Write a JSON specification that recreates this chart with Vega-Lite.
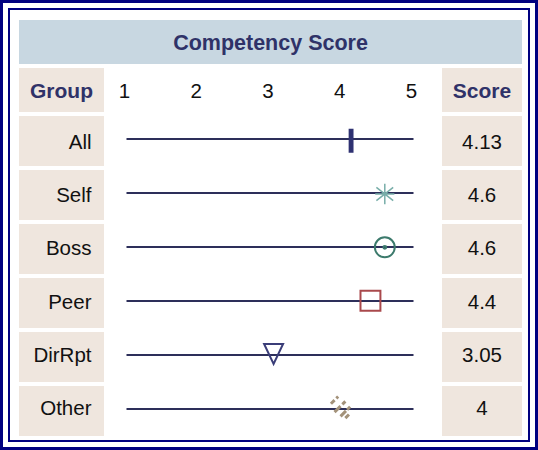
{
  "$schema": "https://vega.github.io/schema/vega-lite/v6.json",
  "width": 538,
  "height": 450,
  "padding": 0,
  "autosize": {"type": "none"},
  "background": "white",
  "config": {"view": {"stroke": null}, "mark": {"font": "Liberation Sans"}},
  "datasets": {
    "rows": [
      {"group": "All", "score": 4.13},
      {"group": "Self", "score": 4.6},
      {"group": "Boss", "score": 4.6},
      {"group": "Peer", "score": 4.4},
      {"group": "DirRpt", "score": 3.05},
      {"group": "Other", "score": 4}
    ],
    "ticks": [{"tick": 1}, {"tick": 2}, {"tick": 3}, {"tick": 4}, {"tick": 5}],
    "title": [{"label": "Competency Score"}]
  },
  "resolve": {"scale": {"x": "independent", "y": "independent", "shape": "independent", "fill": "independent", "stroke": "independent", "strokeWidth": "independent"}},
  "layer": [
    {"data": {"values": [{}]}, "mark": {"type": "rect", "fill": "transparent", "stroke": "#000080", "strokeWidth": 20}, "encoding": {}},
    {"data": {"values": [{}]}, "mark": {"type": "rect", "fill": "transparent", "stroke": "#ffffff", "strokeWidth": 16}, "encoding": {}},
    {"data": {"values": [{}]}, "mark": {"type": "rect", "fill": "transparent", "stroke": "#000080", "strokeWidth": 6}, "encoding": {}},
    {
      "data": {"name": "title"},
      "mark": {"type": "rect", "fill": "#c8d7e1"},
      "encoding": {
        "x": {"field": "label", "type": "nominal", "axis": null, "scale": {"range": [19, 522], "paddingInner": 0, "paddingOuter": 0}},
        "y": {"field": "label", "type": "nominal", "axis": null, "scale": {"range": [20, 64], "paddingInner": 0, "paddingOuter": 0}}
      }
    },
    {
      "data": {"name": "title"},
      "mark": {"type": "text", "fontSize": 21.5, "fontWeight": "bold", "color": "#2f3268", "dy": 2},
      "encoding": {
        "x": {"field": "label", "type": "nominal", "axis": null, "scale": {"range": [19, 522], "paddingInner": 0, "paddingOuter": 0}},
        "y": {"field": "label", "type": "nominal", "axis": null, "scale": {"range": [20, 64], "paddingInner": 0, "paddingOuter": 0}},
        "text": {"field": "label"}
      }
    },
    {
      "data": {"values": [{"h": "Group"}]},
      "mark": {"type": "rect", "fill": "#efe6de"},
      "encoding": {
        "x": {"field": "h", "type": "nominal", "axis": null, "scale": {"range": [19, 104], "paddingInner": 0, "paddingOuter": 0}},
        "y": {"field": "h", "type": "nominal", "axis": null, "scale": {"range": [68, 112], "paddingInner": 0, "paddingOuter": 0}}
      }
    },
    {
      "data": {"values": [{"h": "Group"}]},
      "mark": {"type": "text", "fontSize": 21, "fontWeight": "bold", "color": "#2f3268", "dy": 2},
      "encoding": {
        "x": {"field": "h", "type": "nominal", "axis": null, "scale": {"range": [19, 104], "paddingInner": 0, "paddingOuter": 0}},
        "y": {"field": "h", "type": "nominal", "axis": null, "scale": {"range": [68, 112], "paddingInner": 0, "paddingOuter": 0}},
        "text": {"field": "h"}
      }
    },
    {
      "data": {"values": [{"h": "Score"}]},
      "mark": {"type": "rect", "fill": "#efe6de"},
      "encoding": {
        "x": {"field": "h", "type": "nominal", "axis": null, "scale": {"range": [442, 522], "paddingInner": 0, "paddingOuter": 0}},
        "y": {"field": "h", "type": "nominal", "axis": null, "scale": {"range": [68, 112], "paddingInner": 0, "paddingOuter": 0}}
      }
    },
    {
      "data": {"values": [{"h": "Score"}]},
      "mark": {"type": "text", "fontSize": 21, "fontWeight": "bold", "color": "#2f3268", "dy": 2},
      "encoding": {
        "x": {"field": "h", "type": "nominal", "axis": null, "scale": {"range": [442, 522], "paddingInner": 0, "paddingOuter": 0}},
        "y": {"field": "h", "type": "nominal", "axis": null, "scale": {"range": [68, 112], "paddingInner": 0, "paddingOuter": 0}},
        "text": {"field": "h"}
      }
    },
    {
      "data": {"name": "ticks"},
      "mark": {"type": "text", "fontSize": 20.5, "color": "#111111", "dx": -2, "dy": 2},
      "encoding": {
        "x": {"field": "tick", "type": "quantitative", "axis": null, "scale": {"domain": [1, 5], "range": [126.5, 413.5], "nice": false, "zero": false}},
        "y": {"datum": "header", "type": "nominal", "axis": null, "scale": {"range": [68, 112], "paddingInner": 0, "paddingOuter": 0}},
        "text": {"field": "tick", "type": "nominal"}
      }
    },
    {
      "data": {"name": "rows"},
      "mark": {"type": "rect", "fill": "#efe6de"},
      "encoding": {
        "x": {"datum": "Group", "type": "nominal", "axis": null, "scale": {"range": [19, 104], "paddingInner": 0, "paddingOuter": 0}},
        "y": {"field": "group", "type": "nominal", "axis": null, "scale": {"domain": ["All", "Self", "Boss", "Peer", "DirRpt", "Other"], "range": [116, 436], "paddingInner": 0.074, "paddingOuter": 0}}
      }
    },
    {
      "data": {"name": "rows"},
      "mark": {"type": "text", "fontSize": 20.5, "color": "#111111", "align": "right", "dx": 30},
      "encoding": {
        "x": {"datum": "Group", "type": "nominal", "axis": null, "scale": {"range": [19, 104], "paddingInner": 0, "paddingOuter": 0}},
        "y": {"field": "group", "type": "nominal", "axis": null, "scale": {"domain": ["All", "Self", "Boss", "Peer", "DirRpt", "Other"], "range": [116, 436], "paddingInner": 0.074, "paddingOuter": 0}},
        "text": {"field": "group"}
      }
    },
    {
      "data": {"name": "rows"},
      "mark": {"type": "rect", "fill": "#efe6de"},
      "encoding": {
        "x": {"datum": "Score", "type": "nominal", "axis": null, "scale": {"range": [442, 522], "paddingInner": 0, "paddingOuter": 0}},
        "y": {"field": "group", "type": "nominal", "axis": null, "scale": {"domain": ["All", "Self", "Boss", "Peer", "DirRpt", "Other"], "range": [116, 436], "paddingInner": 0.074, "paddingOuter": 0}}
      }
    },
    {
      "data": {"name": "rows"},
      "mark": {"type": "text", "fontSize": 20.5, "color": "#111111"},
      "encoding": {
        "x": {"datum": "Score", "type": "nominal", "axis": null, "scale": {"range": [442, 522], "paddingInner": 0, "paddingOuter": 0}},
        "y": {"field": "group", "type": "nominal", "axis": null, "scale": {"domain": ["All", "Self", "Boss", "Peer", "DirRpt", "Other"], "range": [116, 436], "paddingInner": 0.074, "paddingOuter": 0}},
        "text": {"field": "score", "type": "nominal"}
      }
    },
    {
      "data": {"name": "rows"},
      "mark": {"type": "rule", "color": "#2d2f5a", "strokeWidth": 2, "yOffset": -2},
      "encoding": {
        "x": {"datum": 1, "type": "quantitative", "axis": null, "scale": {"domain": [1, 5], "range": [126.5, 413.5], "nice": false, "zero": false}},
        "x2": {"datum": 5},
        "y": {"field": "group", "type": "nominal", "axis": null, "scale": {"domain": ["All", "Self", "Boss", "Peer", "DirRpt", "Other"], "range": [116, 436], "paddingInner": 0.074, "paddingOuter": 0}}
      }
    },
    {
      "data": {"name": "rows"},
      "mark": {"type": "point", "size": 576, "strokeWidth": 2, "opacity": 1, "yOffset": -2},
      "encoding": {
        "x": {"field": "score", "type": "quantitative", "axis": null, "scale": {"domain": [1, 5], "range": [126.5, 413.5], "nice": false, "zero": false}},
        "y": {"field": "group", "type": "nominal", "axis": null, "scale": {"domain": ["All", "Self", "Boss", "Peer", "DirRpt", "Other"], "range": [116, 436], "paddingInner": 0.074, "paddingOuter": 0}},
        "shape": {"field": "group", "type": "nominal", "legend": null, "scale": {"domain": ["All", "Self", "Boss", "Peer", "DirRpt", "Other"], "range": [
          "M-0.12,-0.92L0.12,-0.92L0.12,0.92L-0.12,0.92Z",
          "M0,-0.85L0,0.85M-0.7,-0.55L0.7,0.55M-0.7,0.55L0.7,-0.55M-0.8,0L0.8,0",
          "M0.83,0A0.83,0.83 0 1,1 -0.83,0A0.83,0.83 0 1,1 0.83,0ZM0.12,0A0.12,0.12 0 1,1 -0.12,0A0.12,0.12 0 1,1 0.12,0Z",
          "M-0.83,-0.83L0.83,-0.83L0.83,0.83L-0.83,0.83Z",
          "M-0.79,-0.83L0.79,-0.83L0,0.83Z",
          "M-0.9,-0.3L-0.6,-0.6M-0.45,-0.75L-0.3,-0.9M-0.6,0.4L-0.1,-0.1M0.05,-0.25L0.3,-0.5M-0.1,0.75L0.35,0.3M0.45,0.2L0.7,-0.05M0.3,0.9L0.6,0.6"
        ]}},
        "stroke": {"field": "group", "type": "nominal", "legend": null, "scale": {"domain": ["All", "Self", "Boss", "Peer", "DirRpt", "Other"], "range": ["#2f3272", "#78aea9", "#3c7a6c", "#a9494c", "#3a3d78", "#a3927a"]}},
        "fill": {"field": "group", "type": "nominal", "legend": null, "scale": {"domain": ["All", "Self", "Boss", "Peer", "DirRpt", "Other"], "range": ["#2f3272", "transparent", "transparent", "transparent", "transparent", "transparent"]}},
        "strokeWidth": {"field": "group", "type": "nominal", "legend": null, "scale": {"type": "ordinal", "domain": ["All", "Self", "Boss", "Peer", "DirRpt", "Other"], "range": [2, 1.5, 2, 2, 2, 3]}}
      }
    }
  ]
}
